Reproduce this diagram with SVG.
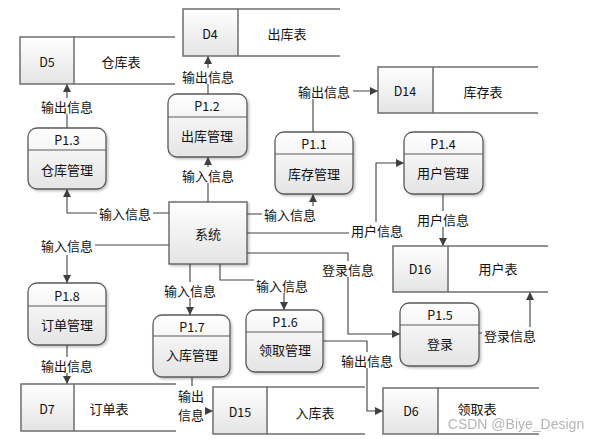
<svg xmlns="http://www.w3.org/2000/svg" width="607" height="439" viewBox="0 0 607 439">
<defs>
<linearGradient id="g" x1="0" y1="0" x2="0" y2="1">
<stop offset="0" stop-color="#ffffff"/>
<stop offset="1" stop-color="#e4e4e4"/>
</linearGradient>
<filter id="sh" x="-10%" y="-10%" width="130%" height="130%">
<feDropShadow dx="1.5" dy="1.5" stdDeviation="1" flood-color="#000" flood-opacity="0.25"/>
</filter>
<marker id="ar" viewBox="0 0 10 10" refX="10" refY="5" markerWidth="8" markerHeight="8" markerUnits="userSpaceOnUse" orient="auto">
<path d="M0,0 L10,5 L0,10 z" fill="#404040"/>
</marker>
</defs>
<style>
text{font-family:"Noto Sans CJK SC","Noto Sans",sans-serif;font-size:13px;fill:#111;text-anchor:middle;dominant-baseline:central}
text.id{font-size:12.5px}
.proc rect.b{fill:url(#g);stroke:#5a5a5a;stroke-width:1.3;filter:url(#sh)}
.proc line{stroke:#5a5a5a;stroke-width:1.2}
.store rect{fill:url(#g);stroke:#6e6e6e;stroke-width:1.5}
.store line{stroke:#6e6e6e;stroke-width:1.6}
.conn path{fill:none;stroke:#404040;stroke-width:1.1}
.conn .a{marker-end:url(#ar)}
.lbl rect{fill:#fff}
text.wm{fill:#a8a8a8;font-family:"Liberation Sans",sans-serif;font-size:14px;opacity:0.85}
</style>
<rect width="607" height="439" fill="#fff"/>

<g class="conn" id="connectors">
<path class="a" d="M208,202 V157"/>
<path class="a" d="M208,94 V56"/>
<path class="a" d="M169,213 H67 V189"/>
<path class="a" d="M67,128 V84"/>
<path class="a" d="M169,245 H67 V283"/>
<path class="a" d="M67,345 V384"/>
<path class="a" d="M247,214 H313 V194"/>
<path class="a" d="M313,132 V91 H378"/>
<path class="a" d="M247,233 H376 V163 H404"/>
<path class="a" d="M443,194 V246"/>
<path class="a" d="M247,253 H348 V334 H400"/>
<path class="a" d="M479,333 H530 V292"/>
<path class="a" d="M190,264 V315"/>
<path class="a" d="M220,264 V280 H284 V310"/>
<path class="a" d="M323,341 H367 V411 H383"/>
<path class="a" d="M192,377 V411 H213"/>
</g>

<g class="lbl" id="labels">
<rect x="180" y="167" width="56" height="16"/><text x="208" y="175">输入信息</text>
<rect x="180" y="68" width="56" height="16"/><text x="208" y="76">输出信息</text>
<rect x="97" y="205" width="56" height="16"/><text x="125" y="213">输入信息</text>
<rect x="39" y="98" width="56" height="16"/><text x="67" y="106">输出信息</text>
<rect x="39" y="237" width="56" height="18"/><text x="67" y="245">输入信息</text>
<rect x="39" y="357" width="56" height="16"/><text x="67" y="365">输出信息</text>
<rect x="262" y="206" width="56" height="16"/><text x="290" y="214">输入信息</text>
<rect x="296" y="83" width="57" height="16"/><text x="324" y="91">输出信息</text>
<rect x="349" y="222" width="56" height="16"/><text x="377" y="230">用户信息</text>
<rect x="415" y="211" width="56" height="16"/><text x="443" y="219">用户信息</text>
<rect x="320" y="261" width="56" height="16"/><text x="348" y="269">登录信息</text>
<rect x="482" y="327" width="56" height="16"/><text x="510" y="335">登录信息</text>
<rect x="162" y="282" width="56" height="16"/><text x="190" y="290">输入信息</text>
<rect x="254" y="277" width="56" height="16"/><text x="282" y="285">输入信息</text>
<rect x="339" y="352" width="56" height="16"/><text x="367" y="360">输出信息</text>
<rect x="177" y="386" width="28" height="36"/><text x="191" y="395">输出</text><text x="191" y="414">信息</text>
</g>

<g id="sys" class="proc">
<rect class="b" x="169" y="202" width="78" height="62"/>
<text x="208" y="233">系统</text>
</g>

<g id="P1.3" class="proc">
<rect class="b" x="28" y="128" width="78" height="61" rx="9"/>
<line x1="28" y1="150" x2="106" y2="150"/>
<text class="id" x="67" y="139">P1.3</text><text x="67" y="169">仓库管理</text>
</g>
<g id="P1.2" class="proc">
<rect class="b" x="168" y="94" width="79" height="63" rx="9"/>
<line x1="168" y1="117" x2="247" y2="117"/>
<text class="id" x="207" y="105">P1.2</text><text x="207" y="135">出库管理</text>
</g>
<g id="P1.1" class="proc">
<rect class="b" x="275" y="132" width="78" height="62" rx="9"/>
<line x1="275" y1="154" x2="353" y2="154"/>
<text class="id" x="314" y="143">P1.1</text><text x="314" y="173">库存管理</text>
</g>
<g id="P1.4" class="proc">
<rect class="b" x="404" y="132" width="79" height="62" rx="9"/>
<line x1="404" y1="154" x2="483" y2="154"/>
<text class="id" x="443" y="143">P1.4</text><text x="443" y="172">用户管理</text>
</g>
<g id="P1.8" class="proc">
<rect class="b" x="28" y="283" width="78" height="62" rx="9"/>
<line x1="28" y1="306" x2="106" y2="306"/>
<text class="id" x="67" y="295">P1.8</text><text x="67" y="324">订单管理</text>
</g>
<g id="P1.7" class="proc">
<rect class="b" x="153" y="315" width="77" height="62" rx="9"/>
<line x1="153" y1="336" x2="230" y2="336"/>
<text class="id" x="192" y="326">P1.7</text><text x="192" y="354">入库管理</text>
</g>
<g id="P1.6" class="proc">
<rect class="b" x="246" y="310" width="77" height="62" rx="9"/>
<line x1="246" y1="332" x2="323" y2="332"/>
<text class="id" x="285" y="321">P1.6</text><text x="285" y="349">领取管理</text>
</g>
<g id="P1.5" class="proc">
<rect class="b" x="400" y="303" width="79" height="63" rx="9"/>
<line x1="400" y1="325" x2="479" y2="325"/>
<text class="id" x="440" y="314">P1.5</text><text x="440" y="343">登录</text>
</g>

<g id="D5" class="store">
<line x1="74" y1="37" x2="175" y2="37"/><line x1="74" y1="84" x2="175" y2="84"/>
<rect x="20" y="37" width="54" height="47"/>
<text class="id" x="47" y="61">D5</text><text x="121" y="61">仓库表</text>
</g>
<g id="D4" class="store">
<line x1="238" y1="9" x2="340" y2="9"/><line x1="238" y1="56" x2="340" y2="56"/>
<rect x="183" y="9" width="55" height="47"/>
<text class="id" x="210" y="33">D4</text><text x="287" y="33">出库表</text>
</g>
<g id="D14" class="store">
<line x1="433" y1="67" x2="538" y2="67"/><line x1="433" y1="113" x2="538" y2="113"/>
<rect x="378" y="67" width="55" height="46"/>
<text class="id" x="405" y="90">D14</text><text x="483" y="91">库存表</text>
</g>
<g id="D16" class="store">
<line x1="448" y1="246" x2="548" y2="246"/><line x1="448" y1="292" x2="548" y2="292"/>
<rect x="393" y="246" width="55" height="46"/>
<text class="id" x="420" y="268">D16</text><text x="498" y="268">用户表</text>
</g>
<g id="D7" class="store">
<line x1="74" y1="384" x2="176" y2="384"/><line x1="74" y1="431" x2="176" y2="431"/>
<rect x="21" y="384" width="53" height="47"/>
<text class="id" x="47" y="408">D7</text><text x="109" y="408">订单表</text>
</g>
<g id="D15" class="store">
<line x1="267" y1="387" x2="365" y2="387"/><line x1="267" y1="434" x2="365" y2="434"/>
<rect x="213" y="387" width="54" height="47"/>
<text class="id" x="240" y="411">D15</text><text x="315" y="412">入库表</text>
</g>
<g id="D6" class="store">
<line x1="438" y1="388" x2="539" y2="388"/><line x1="438" y1="434" x2="539" y2="434"/>
<rect x="383" y="388" width="55" height="46"/>
<text class="id" x="411" y="410">D6</text><text x="477" y="408">领取表</text>
</g>

<text class="wm" x="516" y="424">CSDN @Biye_Design</text>
</svg>
